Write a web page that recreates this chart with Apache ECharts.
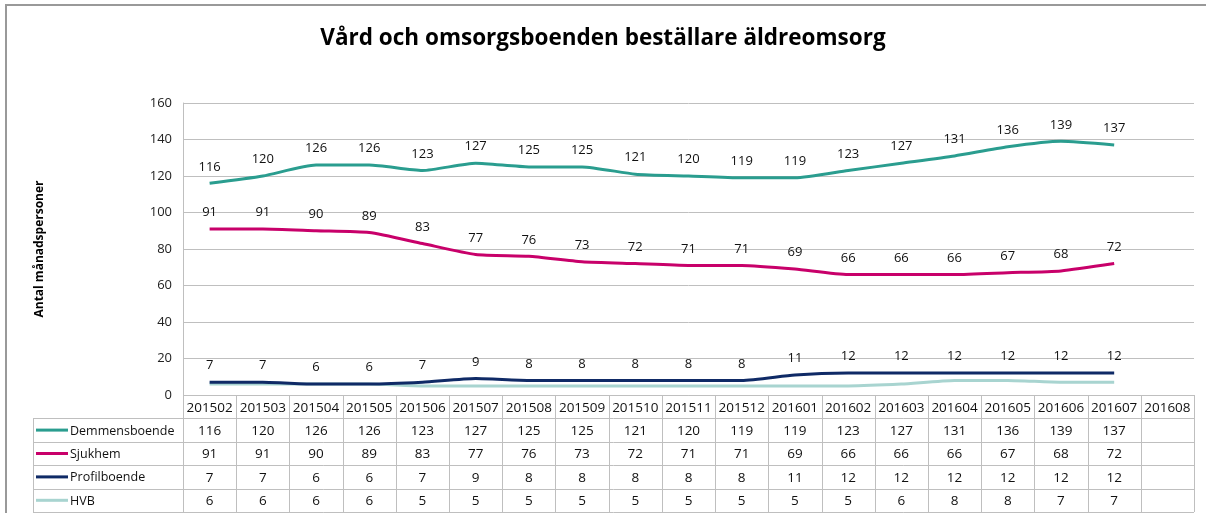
<!DOCTYPE html>
<html>
<head>
<meta charset="utf-8">
<script src="https://cdn.jsdelivr.net/npm/echarts@6/dist/echarts.min.js"></script>
<style>
  html, body { margin: 0; padding: 0; background: #fff; }
  #chart { width: 1206px; height: 513px; }
</style>
</head>
<body>
<div id="chart"></div>
<script>
const months = ['201502', '201503', '201504', '201505', '201506', '201507', '201508', '201509', '201510',
  '201511', '201512', '201601', '201602', '201603', '201604', '201605', '201606', '201607', '201608']
const seriesNames = ['Demmensboende', 'Sjukhem', 'Profilboende', 'HVB']
const demmensboende = [116, 120, 126, 126, 123, 127, 125, 125, 121, 120, 119, 119, 123, 127, 131, 136, 139, 137, null]
const sjukhem = [91, 91, 90, 89, 83, 77, 76, 73, 72, 71, 71, 69, 66, 66, 66, 67, 68, 72, null]
const profilboende = [7, 7, 6, 6, 7, 9, 8, 8, 8, 8, 8, 11, 12, 12, 12, 12, 12, 12, null]
const hvb = [6, 6, 6, 6, 5, 5, 5, 5, 5, 5, 5, 5, 5, 6, 8, 8, 7, 7, null]
const yTicks = [0, 20, 40, 60, 80, 100, 120, 140, 160]

const colors = ['#2a9d8f', '#c8006a', '#0f2a66', '#a8d4d0']
const allValues = [demmensboende, sjukhem, profilboende, hvb]
const showLabels = [true, true, true, false]
const FONT = '"Open Sans", "Liberation Sans", sans-serif'

const chart = echarts.init(document.getElementById('chart'))

const option = {
  animation: false,
  backgroundColor: '#fff',
  title: {
    text: 'Vård och omsorgsboenden beställare äldreomsorg',
    left: 'center',
    top: 22,
    textStyle: { fontFamily: FONT, fontSize: 22.5, fontWeight: 'bold', color: '#000' },
  },
  grid: { left: 183, right: 12, top: 103, bottom: 118 },
  xAxis: {
    type: 'category',
    data: months,
    boundaryGap: true,
    axisLine: { show: false },
    axisTick: { show: false },
    axisLabel: { show: false },
  },
  yAxis: {
    type: 'value',
    min: yTicks[0],
    max: yTicks[yTicks.length - 1],
    interval: 20,
    name: 'Antal månadspersoner',
    nameLocation: 'middle',
    nameGap: 137,
    nameRotate: 90,
    nameTextStyle: { fontFamily: FONT, fontSize: 12, fontWeight: 'bold', color: '#000' },
    axisLine: { show: true, lineStyle: { color: '#bfbfbf', width: 1 } },
    axisTick: { show: false },
    axisLabel: { fontFamily: FONT, fontSize: 13, color: '#222', margin: 11 },
    splitLine: { lineStyle: { color: '#bfbfbf', width: 1 } },
  },
  series: seriesNames.map((name, i) => ({
    name: name,
    type: 'line',
    data: allValues[i],
    smooth: 0.2,
    symbol: 'circle',
    symbolSize: 0,
    showSymbol: true,
    lineStyle: { color: colors[i], width: 3 },
    itemStyle: { color: colors[i] },
    z: 10 - i,
    label: {
      show: showLabels[i],
      position: 'top',
      distance: 10,
      fontFamily: FONT,
      fontSize: 13,
      color: '#111',
    },
    labelLayout: { hideOverlap: false },
  })),
}

chart.setOption(option)

// data table under the plot, positioned from the category axis
const x0c = chart.convertToPixel({ xAxisIndex: 0 }, 0)
const x1c = chart.convertToPixel({ xAxisIndex: 0 }, 1)
const step = x1c - x0c
const tableLeft = x0c - step / 2
const firstColLeft = 33
const yTop = chart.convertToPixel({ yAxisIndex: 0 }, 0)
const rowH = 23.4
const nRows = seriesNames.length + 1
const tableRight = tableLeft + step * months.length
const border = { stroke: '#bfbfbf', lineWidth: 1 }
const txt = { fontFamily: FONT, fontSize: 13.5, fill: '#111' }
const g = []

// chart area frame (only top and left visible)
g.push({ type: 'rect', shape: { x: 6, y: 5, width: 1400, height: 700 }, style: { fill: null, stroke: '#999', lineWidth: 2 }, silent: true })

// horizontal rules
for (let r = 0; r <= nRows; r++) {
  const y = Math.round(yTop + r * rowH) + 0.5
  const left = r === 0 ? tableLeft : firstColLeft
  g.push({ type: 'line', shape: { x1: left, y1: y, x2: tableRight, y2: y }, style: border })
}
// vertical rules
g.push({ type: 'line', shape: { x1: firstColLeft + 0.5, y1: yTop + rowH, x2: firstColLeft + 0.5, y2: yTop + nRows * rowH }, style: border })
for (let c = 0; c <= months.length; c++) {
  const x = Math.round(tableLeft + c * step) + 0.5
  g.push({ type: 'line', shape: { x1: x, y1: yTop, x2: x, y2: yTop + nRows * rowH }, style: border })
}
// header
months.forEach((m, c) => {
  g.push({ type: 'text', x: tableLeft + (c + 0.5) * step, y: yTop + rowH / 2 + 1,
    style: Object.assign({ text: m, align: 'center', verticalAlign: 'middle' }, txt) })
})
// rows
seriesNames.forEach((name, r) => {
  const cy = yTop + (r + 1.5) * rowH + 1
  g.push({ type: 'line', shape: { x1: 36, y1: cy - 1, x2: 68, y2: cy - 1 }, style: { stroke: colors[r], lineWidth: 3 } })
  g.push({ type: 'text', x: 70, y: cy,
    style: Object.assign({}, txt, { text: name, align: 'left', verticalAlign: 'middle', fontSize: 12.5 }) })
  allValues[r].forEach((v, c) => {
    if (v === null) return
    g.push({ type: 'text', x: tableLeft + (c + 0.5) * step, y: cy,
      style: Object.assign({ text: String(v), align: 'center', verticalAlign: 'middle' }, txt) })
  })
})

chart.setOption({ graphic: g })
</script>
</body>
</html>
